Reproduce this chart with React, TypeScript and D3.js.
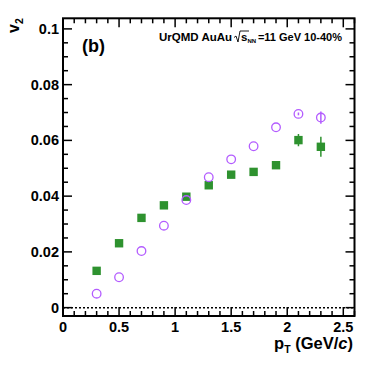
import React from 'react';
import * as d3 from 'd3';

// pT bins (GeV/c)
const ptBins = [0.3, 0.5, 0.7, 0.9, 1.1, 1.3, 1.5, 1.7, 1.9, 2.1, 2.3];
// green filled squares
const v2Squares = [0.0132, 0.0231, 0.0322, 0.0367, 0.0398, 0.0439, 0.0477, 0.0487, 0.0511, 0.0601, 0.0577];
const errSquares = [0, 0, 0, 0, 0, 0, 0, 0, 0.0012, 0.0022, 0.0036];
// violet open circles
const v2Circles = [0.005, 0.0109, 0.0203, 0.0294, 0.0386, 0.0468, 0.0532, 0.0579, 0.0647, 0.0695, 0.0682];
const errCircles = [0, 0, 0, 0, 0, 0, 0, 0, 0, 0.0005, 0.0022];

const xMajor = [0, 0.5, 1, 1.5, 2, 2.5];
const yMajor = [0, 0.02, 0.04, 0.06, 0.08, 0.1];
const yLabels = ['0', '0.02', '0.04', '0.06', '0.08', '0.1'];

const W = 374;
const H = 373;
const frame = { left: 63, right: 354.5, top: 18.3, bottom: 316 };
const font = '"Liberation Sans", Arial, Helvetica, sans-serif';
const green = '#2e922f';
const violet = '#b35cff';

const App = () => {
  const x = d3.scaleLinear().domain([0, 2.6]).range([frame.left, frame.right]);
  const y = d3.scaleLinear().domain([-0.003, 0.1038]).range([frame.bottom, frame.top]);

  const xMinor = d3.range(0, 2.601, 0.1).filter((v) => Math.abs(v * 2 - Math.round(v * 2)) > 1e-6);
  const yMinor = d3.range(0, 0.1031, 0.005).filter((v) => Math.abs(v * 50 - Math.round(v * 50)) > 1e-6);

  const major = 9;
  const minor = 5;

  return (
    <svg
      width={W}
      height={H}
      style={{ position: 'absolute', left: 0, top: 0, background: '#fff' }}
      fontFamily={font}
    >
      {/* zero line */}
      <line
        x1={frame.left}
        x2={frame.right}
        y1={y(0)}
        y2={y(0)}
        stroke="#000"
        strokeWidth={1.5}
        strokeDasharray="2,2"
      />

      {/* ticks */}
      <g stroke="#000" strokeWidth={1.5}>
        {xMajor.map((v) => (
          <g key={'xm' + v}>
            <line x1={x(v)} x2={x(v)} y1={frame.bottom} y2={frame.bottom - major} />
            <line x1={x(v)} x2={x(v)} y1={frame.top} y2={frame.top + major} />
          </g>
        ))}
        {xMinor.map((v) => (
          <g key={'xn' + v}>
            <line x1={x(v)} x2={x(v)} y1={frame.bottom} y2={frame.bottom - minor} />
            <line x1={x(v)} x2={x(v)} y1={frame.top} y2={frame.top + minor} />
          </g>
        ))}
        {yMajor.map((v) => (
          <g key={'ym' + v}>
            <line x1={frame.left} x2={frame.left + major} y1={y(v)} y2={y(v)} />
            <line x1={frame.right} x2={frame.right - major} y1={y(v)} y2={y(v)} />
          </g>
        ))}
        {yMinor.map((v) => (
          <g key={'yn' + v}>
            <line x1={frame.left} x2={frame.left + minor} y1={y(v)} y2={y(v)} />
            <line x1={frame.right} x2={frame.right - minor} y1={y(v)} y2={y(v)} />
          </g>
        ))}
      </g>

      {/* frame */}
      <rect
        x={frame.left}
        y={frame.top}
        width={frame.right - frame.left}
        height={frame.bottom - frame.top}
        fill="none"
        stroke="#000"
        strokeWidth={2}
      />

      {/* tick labels */}
      <g fontSize={14.5} fontWeight="bold" fill="#000">
        {xMajor.map((v) => (
          <text key={'xl' + v} x={x(v)} y={332} textAnchor="middle">
            {String(v)}
          </text>
        ))}
        {yMajor.map((v, i) => (
          <text key={'yl' + v} x={frame.left - 4} y={y(v) + 5} textAnchor="end">
            {yLabels[i]}
          </text>
        ))}
      </g>

      {/* axis titles */}
      <text x={353} y={349} textAnchor="end" fontSize={16.5} fontWeight="bold">
        p<tspan fontSize={10.5} dy={4}>T</tspan>
        <tspan dy={-4}> (GeV/</tspan>
        <tspan fontStyle="italic">c</tspan>)
      </text>
      <text transform="translate(19,33) rotate(-90)" textAnchor="start" fontSize={16} fontWeight="bold">
        v<tspan fontSize={10.5} dy={4}>2</tspan>
      </text>

      <text x={82} y={52} fontSize={18} fontWeight="bold">(b)</text>

      <g fontSize={11.5} fontWeight="bold">
        <text x={159} y={41}>UrQMD AuAu</text>
        <path d="M234,37.5 L236,36 L238,42 L240,31 L249,31" fill="none" stroke="#000" strokeWidth={0.9} />
        <text x={241} y={41}>s</text>
        <text x={247.5} y={43} fontSize={6}>NN</text>
        <text x={342} y={41} textAnchor="end" fontSize={11}>=11 GeV 10-40%</text>
      </g>

      {/* error bars */}
      <g strokeWidth={1.5}>
        {ptBins.map((p, i) =>
          errSquares[i] > 0 ? (
            <line key={'es' + i} x1={x(p)} x2={x(p)} y1={y(v2Squares[i] - errSquares[i])} y2={y(v2Squares[i] + errSquares[i])} stroke={green} />
          ) : null
        )}
        {ptBins.map((p, i) =>
          errCircles[i] > 0 ? (
            <line key={'ec' + i} x1={x(p)} x2={x(p)} y1={y(v2Circles[i] - errCircles[i])} y2={y(v2Circles[i] + errCircles[i])} stroke={violet} />
          ) : null
        )}
      </g>

      {/* markers */}
      {ptBins.map((p, i) => (
        <rect key={'s' + i} x={x(p) - 4.2} y={y(v2Squares[i]) - 4.2} width={8.4} height={8.4} fill={green} />
      ))}
      {ptBins.map((p, i) => (
        <circle key={'c' + i} cx={x(p)} cy={y(v2Circles[i])} r={4.3} fill="none" stroke={violet} strokeWidth={1.3} />
      ))}
    </svg>
  );
};

export default App;
